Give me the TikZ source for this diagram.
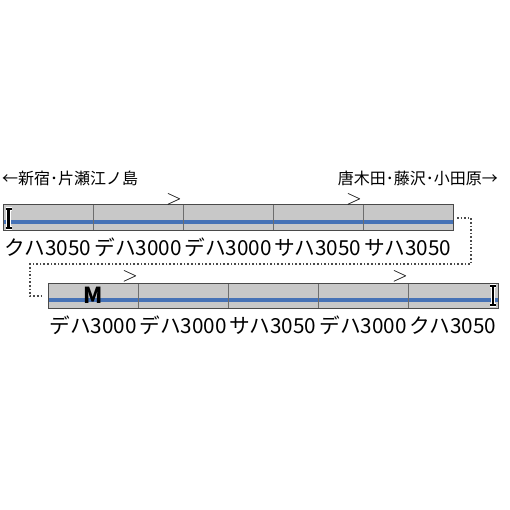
\documentclass[tikz,border=0pt]{standalone}
\usepackage{fontspec}
\usepackage{tikz}
\setmainfont{Noto Sans CJK JP}
\usetikzlibrary{calc}
\definecolor{carfill}{HTML}{C8C8C8}
\definecolor{carline}{HTML}{4A4A4A}
\definecolor{beltblue}{HTML}{4672B6}

\begin{document}
\begin{tikzpicture}[x=1pt,y=-1pt,
    car/.style={fill=carfill,draw=carline,line width=1pt},
    belt/.style={beltblue,line width=4pt},
    joint/.style={carline!80,line width=1pt},
    carname/.style={font=\fontsize{20.7}{21}\selectfont,inner sep=0pt},
    dirname/.style={font=\fontsize{16}{17}\selectfont,inner sep=0pt},
    pant/.style={font=\fontsize{22}{22}\selectfont,inner sep=0pt},
    halo/.style={white,line width=4.5pt},
    endmark/.style={black,line width=2.4pt}]
        \useasboundingbox (0,0) rectangle (510,510);
        \coordinate (up1) at (3,205);
        \coordinate (up2) at (453,230);
        \coordinate (lo1) at (48,283);
        \coordinate (lo2) at (498,308);
        \draw[car] (up1) rectangle (up2);
        \draw[car] (lo1) rectangle (lo2);
        \draw[belt] (3.5,222)--(452.5,222);
        \draw[belt] (48.5,300)--(497.5,300);
        \foreach \x in {93,183,273,363} \draw[joint] (\x,205.5)--(\x,229.5);
        \foreach \x in {138,228,318,408} \draw[joint] (\x,283.5)--(\x,307.5);
        \foreach \x/\y in {8.5/209,493/286} {
            \draw[halo] (\x-3,\y) -- (\x+3,\y) (\x,\y) -- (\x,\y+19) (\x-3,\y+19) -- (\x+3,\y+19);
            \draw[endmark] (\x,\y) -- (\x,\y+19);
            \draw[black,line width=1.4pt] (\x-3,\y) -- (\x+3,\y) (\x-3,\y+19) -- (\x+3,\y+19);
        }
        \node[font=\fontsize{22}{22}\selectfont\bfseries,inner sep=0pt] (mot) at (93,295) {M};
        \node[pant] (p1) at (174,199) {$>$};
        \node[pant] (p2) at (354,199) {$>$};
        \node[pant] (p3) at (130,276.5) {$>$};
        \node[pant] (p4) at (400,276.5) {$>$};
        \node[dirname,anchor=west] (left) at (2,178) {←新宿･片瀬江ノ島};
        \node[dirname,anchor=east] (right) at (498,178) {唐木田･藤沢･小田原→};
        \node[carname] (u1) at (48,247.5) {クハ3050};
        \node[carname] (u2) at (138,247.5) {デハ3000};
        \node[carname] (u3) at (228,247.5) {デハ3000};
        \node[carname] (u4) at (318,247.5) {サハ3050};
        \node[carname] (u5) at (408,247.5) {サハ3050};
        \node[carname] (l1) at (93,325.5) {デハ3000};
        \node[carname] (l2) at (183,325.5) {デハ3000};
        \node[carname] (l3) at (273,325.5) {サハ3050};
        \node[carname] (l4) at (363,325.5) {デハ3000};
        \node[carname] (l5) at (453,325.5) {クハ3050};
        \coordinate (a) at (457,218);
        \coordinate (b) at (471,264);
        \coordinate (c) at (30,296);
        \coordinate (d) at (41,296);
        \draw[carline,line width=1.6pt,dotted] (a) -| (b) -| (c) -- (d);
\end{tikzpicture}
\end{document}
